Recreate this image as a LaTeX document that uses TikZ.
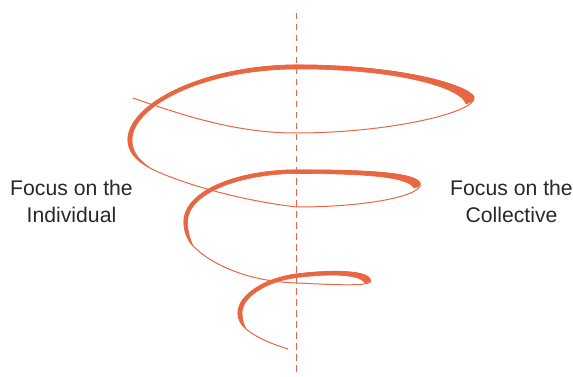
\documentclass[tikz,border=0pt]{standalone}
\usepackage{fontspec}
\setmainfont{Liberation Sans}
\definecolor{spiral}{RGB}{233,102,66}
\definecolor{txt}{RGB}{40,40,40}
\begin{document}
\begin{tikzpicture}[x=1pt,y=-1pt,
  thinline/.style={draw=spiral,line width=1pt,line cap=round},
  thickfill/.style={fill=spiral,draw=spiral,line width=0.6pt,line join=round},
  axisline/.style={draw=spiral,line width=1.2pt,dash pattern=on 6.5pt off 4.5pt},
  label/.style={text=txt,font=\fontsize{21.2}{27}\selectfont,align=center}]
\useasboundingbox (0,0) rectangle (573,377);
% axis
\coordinate (axtop) at (296.8,13);
\coordinate (axbot) at (296.8,373);
\draw[axisline] (axtop) -- (axbot);
% centre line of the spiral (thin)
\draw[thinline] (133,98) .. controls (190,118) and (240,133) .. (296,133)
  .. controls (390,133) and (478,112) .. (474,97)
  .. controls (468,85) and (400,65) .. (296,65)
  .. controls (200,66) and (128,105) .. (128,140)
  .. controls (128,152) and (137,161) .. (150,168)
  .. controls (175,181) and (235,200) .. (297,207)
  .. controls (370,207) and (425,195) .. (420,183)
  .. controls (415,172) and (360,170) .. (297,170)
  .. controls (240,170) and (184,190) .. (184,222)
  .. controls (184,231) and (187,239) .. (193,246)
  .. controls (215,268) and (255,282) .. (297,283)
  .. controls (340,285) and (377,287) .. (370,279)
  .. controls (365,270) and (330,270) .. (297,274)
  .. controls (265,278) and (238,295) .. (238,313)
  .. controls (238,319) and (241,325) .. (246,329)
  .. controls (257,338) and (272,344) .. (288,349);
% thick parts
\path[thickfill] (474,97) .. controls (468,85) and (400,65) .. (296,65)
  .. controls (200,66) and (128,105) .. (128,140)
  .. controls (128,152) and (137,161) .. (150,168)
  .. controls (139,160) and (132,152) .. (132,140)
  .. controls (132,107) and (201,69.5) .. (296,69)
  .. controls (398,68.5) and (462,88) .. (466,104)
  .. controls (472,102) and (474,100) .. (474,97) -- cycle;
\path[thickfill] (420,183) .. controls (415,172) and (360,170) .. (297,170)
  .. controls (240,170) and (184,190) .. (184,222)
  .. controls (184,231) and (187,239) .. (193,246)
  .. controls (190,239) and (187.5,231) .. (187.5,222)
  .. controls (187.5,193) and (241,173.5) .. (297,173.5)
  .. controls (358,173.5) and (408,176) .. (414,188)
  .. controls (419,187) and (421,185) .. (420,183) -- cycle;
\path[thickfill] (370,279) .. controls (365,270) and (330,270) .. (297,274)
  .. controls (265,278) and (238,295) .. (238,313)
  .. controls (238,319) and (241,325) .. (246,329)
  .. controls (244,325) and (242,319) .. (242,313)
  .. controls (242,297) and (266,281.5) .. (297,277.5)
  .. controls (330,273.5) and (360,274) .. (365,283)
  .. controls (369,282) and (371,281) .. (370,279) -- cycle;
% labels
\node[label] (indiv) at (71.5,201) {Focus on the\\Individual};
\node[label] (coll) at (511.5,201) {Focus on the\\Collective};
\end{tikzpicture}
\end{document}
